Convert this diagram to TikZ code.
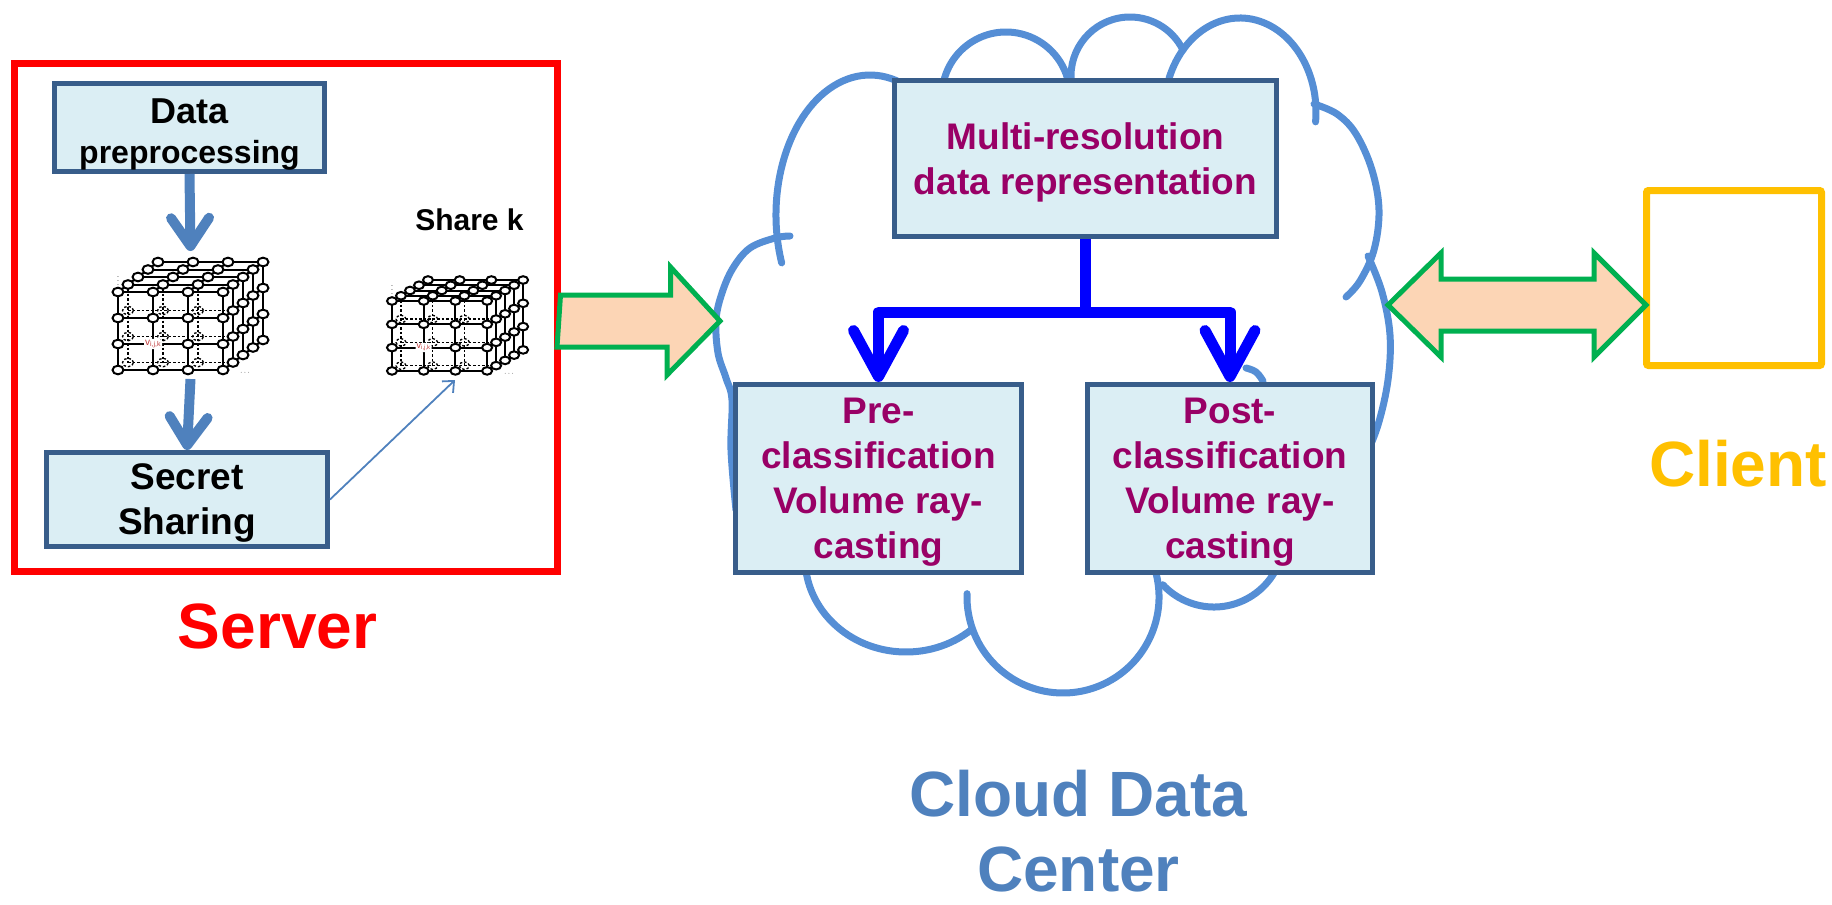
\documentclass[tikz,border=0pt]{standalone}
\usepackage{fontspec}
\setmainfont{Liberation Sans}
\usetikzlibrary{arrows.meta}

\definecolor{srvred}{RGB}{255,0,0}
\definecolor{boxfill}{RGB}{219,238,244}
\definecolor{boxedge}{RGB}{56,93,138}
\definecolor{steel}{RGB}{79,129,189}
\definecolor{plum}{RGB}{153,0,102}
\definecolor{cloudblue}{RGB}{85,142,213}
\definecolor{peach}{RGB}{252,213,181}
\definecolor{arrowgreen}{RGB}{0,176,80}
\definecolor{amber}{RGB}{255,192,0}
\definecolor{latred}{RGB}{192,60,60}

% 4x4x5 lattice of points drawn in oblique projection
% #1 name prefix, #2 front top-left point, #3 column step, #4 row step,
% #5 depth step, #6/#7 point radii, #8 label size
\newcommand\latticecube[8]{%
\begin{scope}[shift={#2}, x={(#3pt,0pt)}, y={(0pt,-#4pt)}, z={#5}]
  % hidden layer seen through the front face
  \foreach \i in {0,1,2} \draw[latdash] (\i,0,1) -- (\i,3,1);
  \foreach \j in {1,2,3} \draw[latdash] (0,\j,1) -- (3,\j,1);
  \foreach \i in {0,1,2} \foreach \j in {1,2,3}
    \draw[latdash] (\i,\j,1) ellipse [x radius=#6pt, y radius=#7pt];
  % visible edges of top, right and front faces
  \foreach \k in {0,...,4} {
    \draw[latline] (0,0,\k) -- (3,0,\k);
    \draw[latline] (3,0,\k) -- (3,3,\k);
  }
  \foreach \p in {0,...,3} {
    \draw[latline] (\p,0,0) -- (\p,0,4);
    \draw[latline] (3,\p,0) -- (3,\p,4);
    \draw[latline] (0,\p,0) -- (3,\p,0);
    \draw[latline] (\p,0,0) -- (\p,3,0);
  }
  % lattice points, back to front
  \foreach \k in {4,3,2,1} {
    \foreach \i in {0,...,3} \path[latnode] (\i,0,\k) ellipse [x radius=#6pt, y radius=#7pt];
    \foreach \j in {1,2,3} \path[latnode] (3,\j,\k) ellipse [x radius=#6pt, y radius=#7pt];
  }
  \foreach \i in {0,...,3} \foreach \j in {0,...,3}
    \path[latnode] (\i,\j,0) ellipse [x radius=#6pt, y radius=#7pt];
  \node[latlabel, font=\mdseries\fontsize{#8}{#8}\selectfont] (#1-v) at (1,2,0) {v\textsubscript{i,j,k}};
  \node[latdots, yshift=14pt] (#1-vd) at (0,0,0) {$\vdots$};
  \node[latdots, xshift=22pt, yshift=-3pt] (#1-hd) at (3,3,0) {$\cdots$};
\end{scope}}

\begin{document}
\begin{tikzpicture}[x=1pt, y=-1pt, font=\bfseries,
  procbox/.style={rectangle, draw=boxedge, fill=boxfill, line width=5pt,
    inner sep=0pt, align=center, text depth=0pt},
  srvfont/.style={font=\bfseries\fontsize{37}{45}\selectfont},
  cldbox/.style={procbox, text=plum, font=\bfseries\fontsize{37}{45}\selectfont},
  title/.style={anchor=base, inner sep=0pt, font=\bfseries\fontsize{64}{75}\selectfont},
  cloudline/.style={draw=cloudblue, line width=7pt, line cap=round},
  srvarrow/.style={draw=steel, line width=10pt,
    -{Straight Barb[length=28pt,width=38pt,round]}},
  sharearrow/.style={draw=steel, line width=1.8pt,
    -{Straight Barb[length=9pt,width=16pt]}},
  forkline/.style={draw=blue, line width=11pt, line join=round},
  blockarrow/.style={draw=arrowgreen, fill=peach, line width=5pt, line join=miter},
  latline/.style={draw=black, line width=2pt},
  latdash/.style={draw=black, line width=1.3pt, dash pattern=on 2.5pt off 2pt},
  latnode/.style={draw=black, fill=white, line width=2pt},
  latlabel/.style={text=latred, fill=white, inner sep=1pt, rounded corners=3pt},
  latdots/.style={inner sep=0pt, font=\fontsize{7}{7}\selectfont}]

\useasboundingbox (0,0) rectangle (1832,905);

% ---------------- cloud outline: one arc per puff ----------------
\draw[cloudline] (870,215) ++(160:94 and 140)
  arc[start angle=160, end angle=298, x radius=94, y radius=140];
\draw[cloudline] (1006,96) ++(190:64)
  arc[start angle=190, end angle=344, radius=64];
\draw[cloudline] (1130,76) ++(175:59)
  arc[start angle=175, end angle=334, radius=59];
\draw[cloudline] (1240,112) ++(201:76 and 94)
  arc[start angle=201, end angle=366, x radius=76, y radius=94];
\draw[cloudline] plot[smooth, tension=0.6] coordinates
  {(1314,104) (1337,114) (1356,134) (1372,170) (1379,210) (1374,250) (1360,281) (1346,297)};
\draw[cloudline] plot[smooth, tension=0.6] coordinates
  {(1368,256) (1382,292) (1390,335) (1388,380) (1378,425) (1364,460)};
\draw[cloudline] plot[smooth, tension=0.7] coordinates
  {(1246,368) (1256,372) (1263,381)};
\draw[cloudline] (1214,537) ++(20:70)
  arc[start angle=20, end angle=137, radius=70];
\draw[cloudline] (1063,597) ++(-16:96)
  arc[start angle=-16, end angle=182, radius=96];
\draw[cloudline] (906,558) ++(49.5:101 and 94)
  arc[start angle=49.5, end angle=176, x radius=101, y radius=94];
\draw[cloudline] plot[smooth, tension=0.6] coordinates
  {(736,510) (731,450) (732,400) (726,378) (718,353) (716,320) (722,293) (733,268) (750,248) (775,238) (790,236)};

\coordinate (cloudW) at (720,321);
\coordinate (cloudE) at (1388,305);

% ---------------- server side ----------------
\node[draw=srvred, line width=7pt, minimum width=542.5pt, minimum height=508pt,
  inner sep=0pt] (server) at (285.75,317.5) {};

\node[procbox, minimum width=270pt, minimum height=88pt, text height=71pt,
  font=\bfseries\fontsize{32}{40}\selectfont] (prep) at (189.5,127.5)
  {{\fontsize{36}{40}\selectfont Data}\\preprocessing};
\node[procbox, srvfont, minimum width=281pt, minimum height=94pt, text height=69pt]
  (secret) at (187,499.5) {Secret\\Sharing};

\latticecube{A}{(118,292)}{35}{26}{(10pt,7.5pt)}{5.5}{4.3}{10}
\latticecube{B}{(392,301)}{31.7}{23.3}{(9pt,5.25pt)}{5}{3.8}{9}

\coordinate (cubeAtop) at (190.5,251);
\coordinate (cubeAbot) at (190.5,379);
\coordinate (cubeBin) at (455,380);

\draw[srvarrow] (prep.south) -- (cubeAtop);
\draw[srvarrow] (cubeAbot) -- (secret.north);
\draw[sharearrow] (secret.east) -- (cubeBin);

\node[anchor=base, inner sep=0pt, font=\bfseries\fontsize{30}{36}\selectfont]
  (sharek) at (469.5,230) {Share k};
\node[title, text=srvred] (serverlbl) at (277.5,648) {Server};

% server to cloud
\draw[blockarrow] ([yshift=-3.5pt]server.east) ++(0,-26) -- ++(110,0) -- ++(0,-28)
  -- (cloudW) -- ++(-53,54) -- ++(0,-28) -- ++(-110,0) -- cycle;

% ---------------- cloud data center ----------------
\node[cldbox, minimum width=382pt, minimum height=156pt, text height=71pt]
  (multi) at (1085.5,158.5) {Multi-resolution\\data representation};
\node[cldbox, minimum width=286pt, minimum height=188pt, text height=159pt]
  (pre) at (878.5,478.5) {Pre-\\classification\\Volume ray-\\casting};
\node[cldbox, minimum width=285pt, minimum height=188pt, text height=159pt]
  (post) at (1230,478.5) {Post-\\classification\\Volume ray-\\casting};

\coordinate (fork) at (1085.5,312);
\draw[forkline] (multi.south) -- (fork);
\draw[forkline, {Straight Barb[length=46pt,width=50pt,round]}-{Straight Barb[length=46pt,width=50pt,round]}]
  (pre.north) |- (fork) -| (post.north);

\node[title, align=center, text=steel] (cdc) at (1078.5,891) {Cloud Data\\Center};

% ---------------- client ----------------
\node[draw=amber, line width=7pt, minimum width=175pt, minimum height=175pt,
  inner sep=0pt, rounded corners=2pt] (client) at (1734,278) {};
\node[title, text=amber] (clientlbl) at (1738,486) {Client};

\draw[blockarrow] (cloudE) -- ++(53,-52) -- ++(0,26) -- ++(153,0) -- ++(0,-26)
  -- ++(52,52) -- ++(-52,52) -- ++(0,-26) -- ++(-153,0) -- ++(0,26) -- cycle;

\end{tikzpicture}
\end{document}
